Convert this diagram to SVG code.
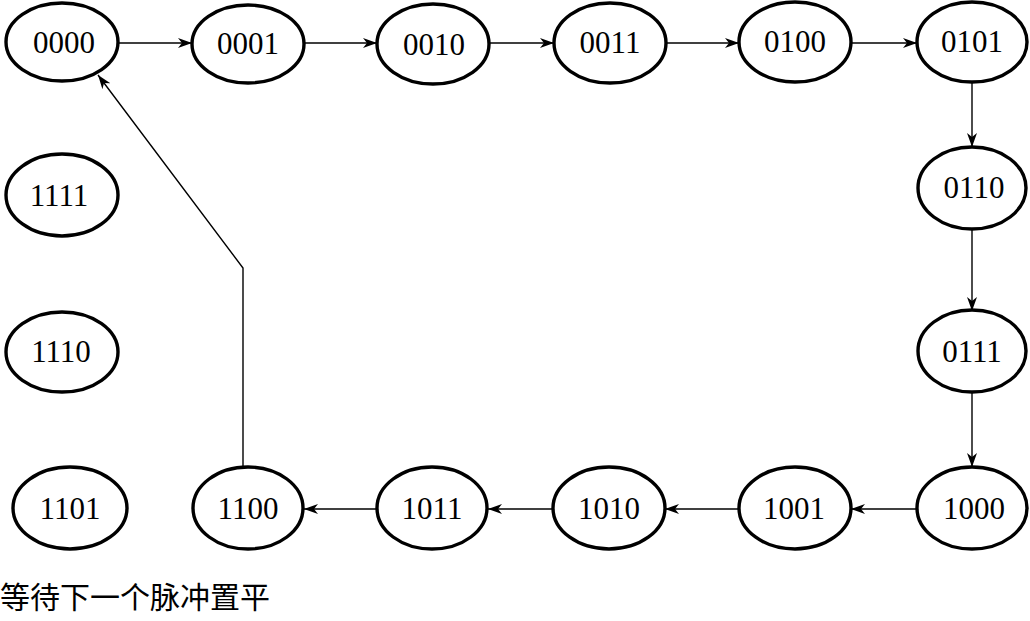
<svg xmlns="http://www.w3.org/2000/svg" width="1030" height="621" viewBox="0 0 1030 621">
<style>
.n ellipse{fill:#fff;stroke:#000;stroke-width:3.4}
.n text{font-family:"Liberation Serif","Times New Roman",serif;font-size:31px;text-anchor:middle;fill:#000}
.c path{fill:none;stroke:#000;stroke-width:1.4}
.cap{font-family:"Noto Sans CJK SC",sans-serif;font-size:30px;fill:#000}
</style>
<defs>
<marker id="a" viewBox="0 0 14 10" refX="14" refY="5" markerWidth="14" markerHeight="10" markerUnits="userSpaceOnUse" orient="auto">
<path d="M0,0 L14,5 L0,10 L4,5 Z" fill="#000"/>
</marker>
</defs>
<rect width="1030" height="621" fill="#fff"/>
<g class="c" id="connectors">
<path d="M118,43 H192" marker-end="url(#a)"/>
<path d="M304,43 H377" marker-end="url(#a)"/>
<path d="M489,43 H554" marker-end="url(#a)"/>
<path d="M666,43 H739" marker-end="url(#a)"/>
<path d="M851,43 H917" marker-end="url(#a)"/>
<path d="M972,83 V147" marker-end="url(#a)"/>
<path d="M972,229 V311" marker-end="url(#a)"/>
<path d="M972,392 V467" marker-end="url(#a)"/>
<path d="M916,509 H851" marker-end="url(#a)"/>
<path d="M739,509 H665" marker-end="url(#a)"/>
<path d="M553,509 H488" marker-end="url(#a)"/>
<path d="M377,509 H304" marker-end="url(#a)"/>
<path d="M243,467 V268 L98,75" marker-end="url(#a)"/>
</g>
<g class="n" id="n0000"><ellipse cx="62" cy="42" rx="56" ry="39"/><text x="64" y="53">0000</text></g>
<g class="n" id="n0001"><ellipse cx="248" cy="44" rx="56" ry="39"/><text x="248" y="54">0001</text></g>
<g class="n" id="n0010"><ellipse cx="433" cy="44" rx="56" ry="40"/><text x="434" y="55">0010</text></g>
<g class="n" id="n0011"><ellipse cx="610" cy="43" rx="56" ry="40"/><text x="610" y="53">0011</text></g>
<g class="n" id="n0100"><ellipse cx="795" cy="42" rx="56" ry="40"/><text x="795" y="52">0100</text></g>
<g class="n" id="n0101"><ellipse cx="972" cy="42" rx="55" ry="40"/><text x="972" y="52">0101</text></g>
<g class="n" id="n0110"><ellipse cx="972" cy="188" rx="54" ry="41"/><text x="974" y="198">0110</text></g>
<g class="n" id="n0111"><ellipse cx="972" cy="351" rx="54" ry="41"/><text x="972" y="362">0111</text></g>
<g class="n" id="n1000"><ellipse cx="972" cy="508" rx="55" ry="41"/><text x="974" y="519">1000</text></g>
<g class="n" id="n1001"><ellipse cx="795" cy="508" rx="56" ry="41"/><text x="794" y="519">1001</text></g>
<g class="n" id="n1010"><ellipse cx="609" cy="508" rx="56" ry="41"/><text x="609" y="519">1010</text></g>
<g class="n" id="n1011"><ellipse cx="432" cy="508" rx="55" ry="41"/><text x="432" y="519">1011</text></g>
<g class="n" id="n1100"><ellipse cx="248" cy="508" rx="55" ry="41"/><text x="248" y="519">1100</text></g>
<g class="n" id="n1101"><ellipse cx="70" cy="508" rx="57" ry="41"/><text x="70" y="519">1101</text></g>
<g class="n" id="n1111"><ellipse cx="62" cy="195" rx="56" ry="41"/><text x="59" y="206">1111</text></g>
<g class="n" id="n1110"><ellipse cx="62" cy="352" rx="56" ry="40"/><text x="61" y="362">1110</text></g>
<text class="cap" x="0" y="608">等待下一个脉冲置平</text>
</svg>
